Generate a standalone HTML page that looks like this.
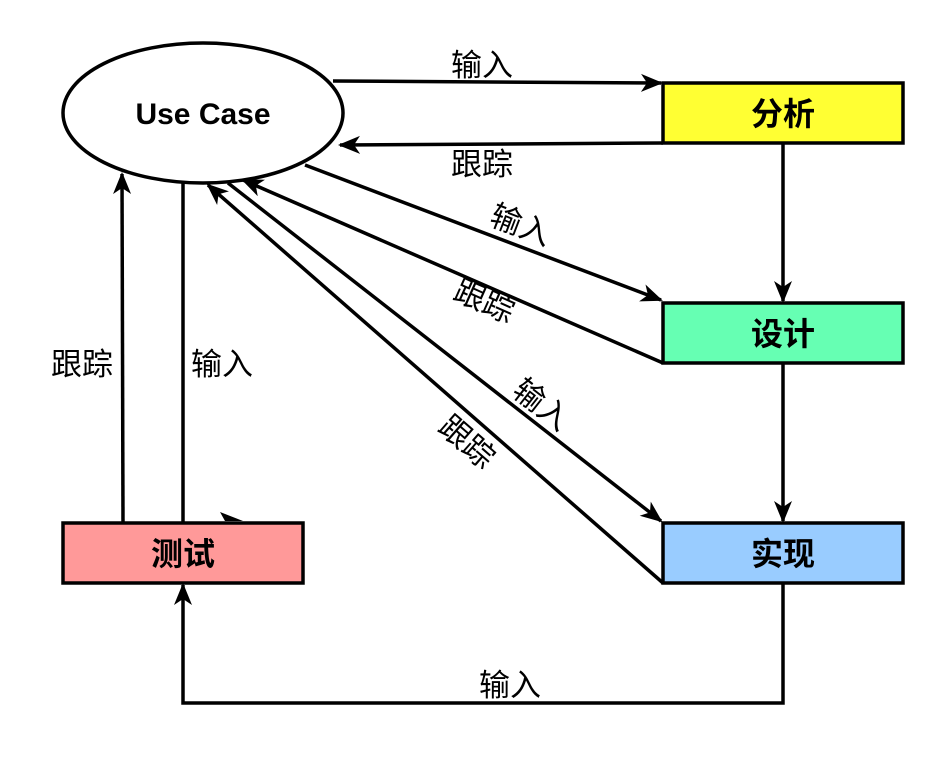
<!DOCTYPE html>
<html><head><meta charset="utf-8"><style>body{margin:0;background:#fff}</style></head><body>
<svg width="944" height="760" xmlns="http://www.w3.org/2000/svg" font-family="'Liberation Sans','Noto Sans CJK SC',sans-serif">
<defs>
<marker id="b" markerWidth="22" markerHeight="22" refX="20" refY="11" orient="auto" markerUnits="userSpaceOnUse" viewBox="0 0 22 22"><path d="M0,2 L22,11 L0,20 L6,11 z" fill="#000"/></marker></defs>
<g stroke="#000" stroke-width="3.5" fill="none">
<line x1="333" y1="81" x2="661" y2="83" marker-end="url(#b)"/>
<line x1="663" y1="143" x2="340" y2="145" marker-end="url(#b)"/>
<line x1="783" y1="143" x2="783" y2="301" marker-end="url(#b)"/>
<line x1="783" y1="363" x2="783" y2="521" marker-end="url(#b)"/>
<line x1="305" y1="165" x2="661" y2="300" marker-end="url(#b)"/>
<line x1="663" y1="363" x2="243" y2="180" marker-end="url(#b)"/>
<line x1="228" y1="183" x2="661" y2="521" marker-end="url(#b)"/>
<line x1="663" y1="583" x2="208" y2="185" marker-end="url(#b)"/>
<line x1="123" y1="523" x2="122" y2="174" marker-end="url(#b)"/>
<line x1="183" y1="183" x2="183" y2="523"/>
<polyline points="783,583 783,703 183,703 183,585" marker-end="url(#b)"/>
</g>
<path d="M220,512 L243,521 L225,521 z" fill="#000"/>
<ellipse cx="203" cy="113" rx="140" ry="70" fill="#fff" stroke="#000" stroke-width="3.5"/>
<rect x="663" y="83" width="240" height="60" fill="#ffff33" stroke="#000" stroke-width="3.5"/>
<rect x="663" y="303" width="240" height="60" fill="#66ffb3" stroke="#000" stroke-width="3.5"/>
<rect x="663" y="523" width="240" height="60" fill="#99ccff" stroke="#000" stroke-width="3.5"/>
<rect x="63" y="523" width="240" height="60" fill="#ff9999" stroke="#000" stroke-width="3.5"/>
<g font-weight="bold" text-anchor="middle">
<text x="203" y="124" font-size="30">Use Case</text>
<g font-size="32">
<text x="783" y="125">分析</text>
<text x="783" y="345">设计</text>
<text x="783" y="565">实现</text>
<text x="183" y="565">测试</text>
</g></g>
<g font-size="31" text-anchor="middle">
<text x="482" y="76">输入</text>
<text x="482" y="175">跟踪</text>
<text x="82" y="375">跟踪</text>
<text x="222" y="375">输入</text>
<text x="510" y="696">输入</text>
<text transform="translate(517,235) rotate(21)">输入</text>
<text transform="translate(480,311) rotate(24)">跟踪</text>
<text transform="translate(535,413) rotate(38)">输入</text>
<text transform="translate(460,450) rotate(41)">跟踪</text>
</g>
</svg>
</body></html>
